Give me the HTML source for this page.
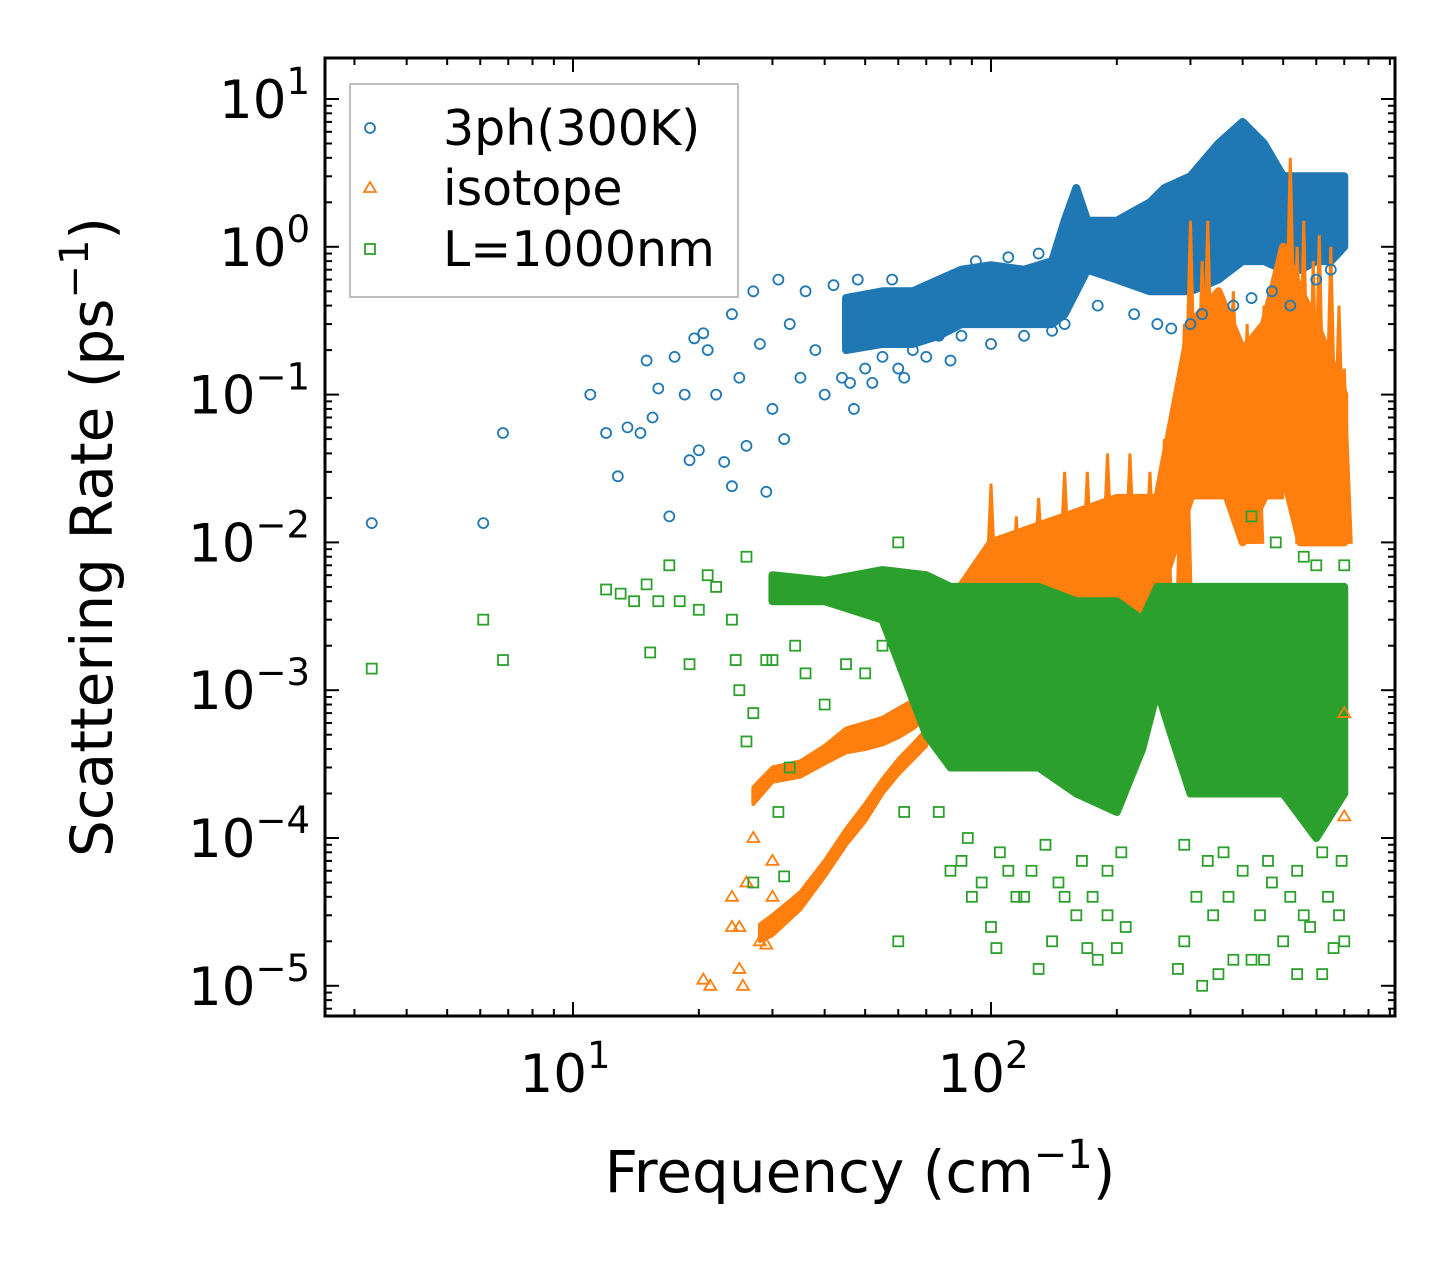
<!DOCTYPE html>
<html><head><meta charset="utf-8">
<style>
html,body{margin:0;padding:0;background:#fff;}
svg{display:block;font-family:"DejaVu Sans","Liberation Sans",sans-serif;}
</style></head>
<body>
<svg id="chart" width="1455" height="1265" viewBox="0 0 1455 1265" xmlns="http://www.w3.org/2000/svg">
<g id="bands"></g>
<g id="marks"></g>
<g id="axes"></g>
<text x="860" y="1192" font-size="58" text-anchor="middle">Frequency (cm<tspan dy="-24" font-size="40">−1</tspan><tspan dy="24">)</tspan></text>
<text transform="translate(112,537) rotate(-90)" font-size="58" text-anchor="middle">Scattering Rate (ps<tspan dy="-24" font-size="40">−1</tspan><tspan dy="24">)</tspan></text>
<g>
<rect x="350" y="84" width="388" height="213" fill="#fff" fill-opacity="0.85" stroke="#aaa" stroke-width="1.5"/>
<g><circle cx="370" cy="128" r="5" fill="none" stroke="#1f77b4" stroke-width="1.8"/><text x="443" y="145" font-size="49">3ph(300K)</text></g>
<g><polygon points="370,182 376,192 364,192" fill="none" stroke="#ff7f0e" stroke-width="1.8"/><text x="443" y="205" font-size="49">isotope</text></g>
<g><rect x="365" y="244" width="10" height="10" fill="none" stroke="#2ca02c" stroke-width="1.8"/><text x="443" y="266" font-size="49">L=1000nm</text></g>
</g>
</svg>
<script>
// ---- data ----
const blueBandF  = [45,55,65,75,85,100,120,140,150,160,170,200,240,260,300,350,400,450,500,550,600,650,700];
const blueBandLo = [0.2,0.22,0.22,0.25,0.3,0.3,0.3,0.3,0.35,0.5,0.7,0.6,0.5,0.5,0.5,0.6,0.8,0.8,0.7,0.7,0.8,0.8,1.0];
const blueBandHi = [0.45,0.5,0.5,0.6,0.7,0.75,0.7,0.8,1.5,2.5,1.5,1.5,2,2.5,3,5,7,5,3,3,3,3,3];
const orangeUpF  = [27,30,35,40,45,50,55,60,65,70];
const orangeUpLo = [1.7e-4,2.4e-4,2.6e-4,3.2e-4,3.8e-4,4e-4,4.3e-4,4.8e-4,5.5e-4,6.5e-4];
const orangeUpHi = [2.2e-4,3e-4,3.3e-4,4.2e-4,5.5e-4,6e-4,6.5e-4,7.5e-4,8.5e-4,1e-3];
const orangeLowF  = [28,30,35,40,45,50,55,60,65,70];
const orangeLowLo = [2e-5,2.2e-5,3.3e-5,5.5e-5,9e-5,1.3e-4,2e-4,2.7e-4,3.4e-4,4.2e-4];
const orangeLowHi = [2.6e-5,3e-5,4.3e-5,7e-5,1.15e-4,1.7e-4,2.5e-4,3.4e-4,4.3e-4,5.4e-4];
const orangeBandF  = [70,80,100,120,150,200,250,300,350,400,450,500,550,600,700];
const orangeBandLo = [6e-4,1e-3,2e-3,3e-3,3e-3,3e-3,4e-3,2e-2,3e-2,1e-2,2e-2,3e-2,1e-2,1e-2,1e-2];
const orangeBandHi = [1.5e-3,4e-3,1e-2,1.2e-2,1.5e-2,2e-2,2e-2,0.3,0.5,0.2,0.3,1,0.5,0.3,0.1];
const orangeSpikeF   = [100,115,130,150,170,190,215,240,260,290,300,320,330,345,360,380,410,430,450,480,520,540,560,590,610,650,680,700];
const orangeSpikeTop = [0.025,0.015,0.02,0.03,0.03,0.04,0.04,0.03,0.05,0.3,1.5,0.8,1.5,0.5,0.3,0.5,0.3,0.2,0.4,0.6,4,1,1.5,0.8,1.2,1,0.4,0.15];
const greenBandF  = [30,40,55,70,80,100,130,160,200,230,250,270,300,400,500,600,700];
const greenBandLo = [4e-3,4e-3,3e-3,5e-4,3e-4,3e-4,3e-4,2e-4,1.5e-4,4e-4,1e-3,5e-4,2e-4,2e-4,2e-4,1e-4,2e-4];
const greenBandHi = [6e-3,5.5e-3,6.5e-3,6e-3,5e-3,5e-3,5e-3,4e-3,4e-3,3e-3,5e-3,5e-3,5e-3,5e-3,5e-3,5e-3,5e-3];
const blueF = [3.3,6.1,6.8,11,12,12.8,13.5,14.5,15,15.5,16,17,17.5,18.5,19,19.5,20,20.5,21,22,23,24,24,25,26,27,28,29,30,31,32,33,35,36,38,40,42,44,47,48,52,60,62,75,80,92,110,130,46,50,55,58,65,70,85,100,120,140,150,180,220,250,270,300,320,380,420,470,520,600,650];
const blueR = [0.0135,0.0135,0.055,0.1,0.055,0.028,0.06,0.055,0.17,0.07,0.11,0.015,0.18,0.1,0.036,0.24,0.042,0.26,0.2,0.1,0.035,0.024,0.35,0.13,0.045,0.5,0.22,0.022,0.08,0.6,0.05,0.3,0.13,0.5,0.2,0.1,0.55,0.13,0.08,0.6,0.12,0.15,0.13,0.25,0.17,0.8,0.85,0.9,0.12,0.15,0.18,0.6,0.2,0.18,0.25,0.22,0.25,0.27,0.3,0.4,0.35,0.3,0.28,0.3,0.35,0.4,0.45,0.5,0.4,0.6,0.7];
const orangeF = [20.5,21.3,24,24,25,25,25.5,26,27,28,29,30,30,32,34,700,700];
const orangeR = [1.1e-5,1e-5,4e-5,2.5e-5,2.5e-5,1.3e-5,1e-5,5e-5,1e-4,2e-5,1.9e-5,4e-5,7e-5,3e-5,3.5e-5,1.4e-4,7e-4];
const greenF = [3.3,6.1,6.8,12,13,14,15,15.3,16,17,18,19,20,21,22,24,24.5,25,26,26,27,27,29,30,31,32,33,34,36,40,45,50,55,60,60,62,75,80,90,100,103,110,120,130,140,150,160,170,180,190,200,210,280,290,320,350,380,420,450,500,540,580,620,660,700,420,480,560,600,700,85,95,115,125,145,175,190,310,340,370,440,470,520,560,640,680,88,105,135,165,205,290,330,360,400,460,540,620,690];
const greenR = [1.4e-3,3e-3,1.6e-3,4.8e-3,4.5e-3,4e-3,5.2e-3,1.8e-3,4e-3,7e-3,4e-3,1.5e-3,3.5e-3,6e-3,5e-3,3e-3,1.6e-3,1e-3,4.5e-4,8e-3,7e-4,5e-5,1.6e-3,1.6e-3,1.5e-4,5.5e-5,3e-4,2e-3,1.3e-3,8e-4,1.5e-3,1.3e-3,2e-3,2e-5,1e-2,1.5e-4,1.5e-4,6e-5,4e-5,2.5e-5,1.8e-5,6e-5,4e-5,1.3e-5,2e-5,4e-5,3e-5,1.8e-5,1.5e-5,3e-5,1.8e-5,2.5e-5,1.3e-5,2e-5,1e-5,1.2e-5,1.5e-5,1.5e-5,1.5e-5,2e-5,1.2e-5,2.5e-5,1.2e-5,1.8e-5,2e-5,1.5e-2,1e-2,8e-3,7e-3,7e-3,7e-5,5e-5,4e-5,6e-5,5e-5,4e-5,6e-5,4e-5,3e-5,4e-5,3e-5,5e-5,4e-5,3e-5,4e-5,3e-5,1e-4,8e-5,9e-5,7e-5,8e-5,9e-5,7e-5,8e-5,6e-5,7e-5,6e-5,8e-5,7e-5];
const xTickVals = [10,100];
const xTickLabels = ["1","2"];
const yTickExps = [1,0,-1,-2,-3,-4,-5];

// ---- axes ----
const L=325,R=1395,T=58,B=1016;
const X = v => 573 + (Math.log10(v)-1)*418;
const Y = v => 99 + (1-Math.log10(v))*147.8;
const NS="http://www.w3.org/2000/svg";
function mk(tag,attrs,parent){const e=document.createElementNS(NS,tag);for(const k in attrs)e.setAttribute(k,attrs[k]);parent.appendChild(e);return e;}
const bands=document.getElementById('bands'), marks=document.getElementById('marks'), axes=document.getElementById('axes');

function band(F,Lo,Hi,color,name,sw){
  let pts=F.map((f,i)=>X(f)+','+Y(Hi[i]));
  for(let i=F.length-1;i>=0;i--)pts.push(X(F[i])+','+Y(Lo[i]));
  const p=mk('polygon',{points:pts.join(' '),fill:color,stroke:color,'stroke-width':sw,'stroke-linejoin':'round'},bands);
  
  
}
band(blueBandF,blueBandLo,blueBandHi,'#1f77b4','blue-dense-band',8);
orangeSpikeF.forEach((f,i)=>{
  let j=0;while(j<orangeBandF.length-1&&orangeBandF[j+1]<=f)j++;
  const base=orangeBandLo[j];
  const s=mk('polygon',{points:`${X(f)-7},${Y(base)} ${X(f)},${Y(orangeSpikeTop[i])} ${X(f)+7},${Y(base)}`,fill:'#ff7f0e',stroke:'#ff7f0e','stroke-width':3},bands);
  
  
});
band(orangeBandF,orangeBandLo,orangeBandHi,'#ff7f0e','orange-dense-band',8);
band(orangeUpF,orangeUpLo,orangeUpHi,'#ff7f0e','orange-upper-branch',4);
band(orangeLowF,orangeLowLo,orangeLowHi,'#ff7f0e','orange-lower-branch',4);
band(greenBandF,greenBandLo,greenBandHi,'#2ca02c','green-dense-band',8);

blueF.forEach((f,i)=>{
  const c=mk('circle',{cx:X(f),cy:Y(blueR[i]),r:5,fill:'none',stroke:'#1f77b4','stroke-width':1.8},marks);
  
  
});
orangeF.forEach((f,i)=>{
  const x=X(f),y=Y(orangeR[i]);
  const t=mk('polygon',{points:`${x},${y-6} ${x+6},${y+4} ${x-6},${y+4}`,fill:'none',stroke:'#ff7f0e','stroke-width':1.8},marks);
  
  
});
greenF.forEach((f,i)=>{
  const r=mk('rect',{x:X(f)-5,y:Y(greenR[i])-5,width:10,height:10,fill:'none',stroke:'#2ca02c','stroke-width':1.8},marks);
  
  
});

const fr=mk('rect',{x:L,y:T,width:R-L,height:B-T,fill:'none',stroke:'#000','stroke-width':3},axes);


for(let d=0;d<=2;d++)for(let m=1;m<=9;m++){
  const v=m*Math.pow(10,d); const x=X(v); if(x<L||x>R)continue;
  const len=m===1?14:7;
  mk('line',{x1:x,y1:B,x2:x,y2:B-len,stroke:'#000','stroke-width':2},axes);
  mk('line',{x1:x,y1:T,x2:x,y2:T+len,stroke:'#000','stroke-width':2},axes);
}
xTickVals.forEach((v,i)=>{
  const t=mk('text',{x:X(v)-8,y:1092,'font-size':53,'text-anchor':'middle'},axes);
  
  
  t.innerHTML='10<tspan dy="-24" font-size="37">'+xTickLabels[i]+'</tspan>';
});
for(let e=-6;e<=1;e++)for(let m=1;m<=9;m++){
  const v=m*Math.pow(10,e); const y=Y(v); if(y<T||y>B)continue;
  const len=m===1?14:7;
  mk('line',{x1:L,y1:y,x2:L+len,y2:y,stroke:'#000','stroke-width':2},axes);
  mk('line',{x1:R,y1:y,x2:R-len,y2:y,stroke:'#000','stroke-width':2},axes);
}
yTickExps.forEach(e=>{
  const t=mk('text',{x:310,y:Y(Math.pow(10,e))+19,'font-size':53,'text-anchor':'end'},axes);
  
  
  t.innerHTML='10<tspan dy="-24" font-size="37">'+(e<0?'−'+(-e):e)+'</tspan>';
});
</script>
</body></html>
